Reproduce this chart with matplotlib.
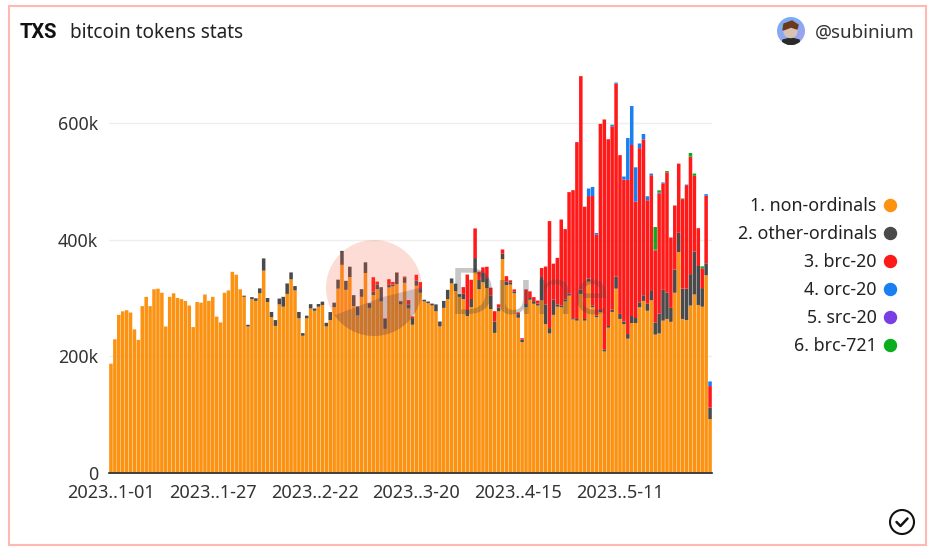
import matplotlib
matplotlib.use('Agg')
import matplotlib.pyplot as plt
from matplotlib.patches import Circle, Rectangle, Polygon
import numpy as np

FONT = 'Noto Sans'
plt.rcParams['font.family'] = [FONT, 'DejaVu Sans']

# values in thousands of transactions, one per day
non_ordinals = [
    187, 229, 271, 277, 279, 275, 246, 228, 286, 302, 286, 315, 316, 309, 251, 302, 308, 300, 298, 295,
    287, 250, 293, 292, 306, 295, 302, 268, 258, 309, 313, 345, 340, 315, 302, 251, 298, 295, 308, 347,
    293, 267, 252, 289, 285, 307, 332, 313, 265, 235, 265, 282, 278, 285, 288, 251, 262, 284, 316, 357,
    314, 336, 286, 270, 302, 343, 283, 305, 315, 294, 247, 318, 320, 324, 289, 326, 282, 254, 321, 309,
    294, 291, 287, 277, 251, 283, 298, 325, 312, 302, 298, 269, 284, 344, 315, 327, 317, 281, 240, 277,
    367, 322, 323, 308, 266, 224, 284, 297, 290, 287, 296, 255, 239, 271, 285, 284, 294, 304, 263, 261,
    307, 261, 328, 284, 267, 276, 208, 249, 276, 316, 264, 255, 230, 257, 257, 284, 295, 278, 296, 237,
    239, 261, 264, 259, 309, 379, 264, 262, 287, 306, 288, 285, 339, 92]
other_ordinals = [
    0, 0, 0, 0, 0, 0, 0, 0, 0, 0, 0, 0, 0, 0, 0, 0, 0, 0, 0, 0,
    0, 0, 0, 0, 0, 0, 0, 0, 0, 0, 0, 0, 0, 0, 2, 3, 3.5, 4.5, 8.5, 21,
    7, 9, 10, 10, 17, 18, 12, 7.5, 11, 4.6, 4.6, 7.4, 4, 4.6, 5.7, 6.3, 13.8, 8, 15.5, 24,
    15.5, 17.8, 18.9, 15.5, 13.2, 18.3, 8, 5.7, 8.6, 24.6, 17, 4.6, 3, 19.5, 5, 8.6, 6.9, 11.5, 9.2, 6.3,
    3, 3, 3.4, 12, 8.6, 12, 16, 8.6, 12.6, 4.6, 9.2, 10.3, 14.3, 24.6, 16, 16, 17.2, 23.5, 19.5, 6.9,
    9, 6.3, 4, 3.4, 6.3, 4.6, 5.7, 2.9, 4.6, 3.4, 40, 34, 9.2, 26, 4, 2.9, 3.4, 4, 2.3, 2.9,
    7.4, 2.9, 5.2, 3.4, 2.9, 3.4, 2.9, 2.9, 4, 20.6, 8.6, 4.6, 8, 12, 8.6, 8.6, 9.7, 12, 16, 21,
    34, 53, 45, 24, 40, 33, 52, 54, 54, 74, 67, 32, 20.6, 19.6]
brc_20 = [
    0, 0, 0, 0, 0, 0, 0, 0, 0, 0, 0, 0, 0, 0, 0, 0, 0, 0, 0, 0,
    0, 0, 0, 0, 0, 0, 0, 0, 0, 0, 0, 0, 0, 0, 0, 0, 0, 0, 0, 0,
    0, 0, 0, 0, 0, 0, 0, 0, 0, 0, 0, 0, 0, 0, 0, 0, 0, 0, 0, 0,
    0, 0, 0, 0, 0, 0, 0, 25, 4.6, 0, 1, 9.7, 4.6, 0.6, 1, 2.3, 7.4, 2.9, 9.7, 12,
    0, 0, 0, 0, 0, 0, 0, 0, 0, 0, 11.5, 61, 33, 51, 14.3, 9.7, 19.5, 13.2, 17.8, 5.2,
    7.4, 9.2, 3.4, 3.4, 2.9, 2.3, 25, 11.5, 6.9, 5.2, 15.5, 65, 184, 62, 80, 148, 121, 174, 220, 304,
    367, 193, 142, 188, 139, 320, 396, 321, 315, 332, 273, 244, 265, 294, 200, 265, 268, 178, 199, 124,
    207, 183, 207, 121, 110, 119, 154, 178, 202, 130, 65, 34, 116, 37]
orc_20 = [0] * 122 + [
    13, 15.5, 2.9, 0, 0, 0, 2.9, 1.7, 0, 5.2, 72, 67, 59, 8, 9.2, 6.9, 2.9, 1, 1.7, 1.7,
    0, 0, 0, 0, 0, 1, 0, 0, 0, 0, 2.9, 8]
src_20 = [0] * 154
brc_721 = [0] * 139 + [39, 3.4, 0, 2.3, 0, 0, 0, 1.1, 0, 6.3, 4, 0, 3.4, 0, 0]

series_names = ['1. non-ordinals', '2. other-ordinals', '3. brc-20', '4. orc-20', '5. src-20', '6. brc-721']
series_colors = ['#fb9212', '#4a4a4a', '#ff1a1a', '#1a7ff0', '#7a3fe4', '#0aad1e']
series_values = [non_ordinals, other_ordinals, brc_20, orc_20, src_20, brc_721]

date_ticks = [0, 26, 52, 78, 104, 130]
date_labels = ['2023..1-01', '2023..1-27', '2023..2-22', '2023..3-20', '2023..4-15', '2023..5-11']
y_ticks = [0, 200, 400, 600]
y_labels = ['0', '200k', '400k', '600k']

W, H = 933, 550
fig = plt.figure(figsize=(W / 100, H / 100), dpi=100)
fig.patch.set_facecolor('white')

# chart area, placed in pixels
ax = fig.add_axes([109 / W, (H - 472.5) / H, 603 / W, 410.5 / H])
x = np.arange(len(non_ordinals))
bottom = np.zeros(len(x))
for values, color in zip(series_values, series_colors):
    values = np.array(values, dtype=float)
    bars = ax.bar(x, values, bottom=bottom, width=0.9, color=color, linewidth=0, zorder=3)
    for b in bars:
        b.set_snap(False)  # keep the day stripes even
    bottom += values
ax.set_xlim(-0.5, 153.5)
ax.set_ylim(0, 410.5 / 0.5817)
for s in ['top', 'right', 'left']:
    ax.spines[s].set_visible(False)
ax.spines['bottom'].set_color('#222222')
ax.spines['bottom'].set_linewidth(1.2)
ax.spines['bottom'].set_zorder(4)
ax.grid(axis='y', color='#eeeeee', linewidth=1, zorder=0)
ax.set_axisbelow(True)
ax.set_xticks(date_ticks)
ax.set_xticklabels(date_labels, fontsize=13, color='#333333')
ax.set_yticks(y_ticks)
ax.set_yticklabels(y_labels, fontsize=12.8, color='#333333')
ax.tick_params(axis='both', length=0)
ax.tick_params(axis='x', pad=8)
ax.tick_params(axis='y', pad=8)

# overlay in pixel coordinates for the frame, header, legend and marks
ov = fig.add_axes([0, 0, 1, 1], zorder=10)
ov.set_xlim(0, W)
ov.set_ylim(H, 0)
ov.axis('off')
ov.patch.set_alpha(0)

ov.add_patch(Rectangle((8.5, 6), 917, 539, fill=False, edgecolor='#ffb8b2', linewidth=1.5))

ov.text(20, 32.5, 'TXS', fontsize=14.5, family='Roboto', fontweight='bold', color='#111111', va='center', ha='left')
ov.text(70, 33, 'bitcoin tokens stats', fontsize=13.7, color='#222222', va='center', ha='left')
ov.text(915, 33, '@subinium', fontsize=13.5, color='#333333', va='center', ha='right')

# avatar
ov.imshow(np.linspace(0, 1, 30).reshape(-1, 1) * np.ones((30, 30)) + np.linspace(0, 0.6, 30), cmap=matplotlib.colors.LinearSegmentedColormap.from_list('av', ['#6fb0f5', '#a9a0ee']),
          extent=(777, 805, 45, 17), zorder=1, aspect='auto')
clip = Circle((791, 31), 14, transform=ov.transData)
ov.images[-1].set_clip_path(clip)
ov.set_xlim(0, W)
ov.set_ylim(H, 0)
body = Polygon([[782, 45], [783, 40], [791, 38], [799, 40], [800, 45]], color='#2a2a2a', zorder=2)
ov.add_patch(body)
body.set_clip_path(Circle((791, 31), 14, transform=ov.transData))
ov.add_patch(Circle((790.5, 31), 6.5, color='#d8c2b4', zorder=3))
ov.add_patch(Polygon([[783, 30], [784, 24], [792, 21], [798, 25], [797, 29], [791, 27], [786, 29]], color='#6b3a1c', zorder=4))

# legend
legend_y = [205, 233, 261, 289, 317, 345]
for name, color, y in zip(series_names, series_colors, legend_y):
    ov.text(876.5, y + 1, name, fontsize=12.8, color='#222222', va='center', ha='right')
    ov.add_patch(Circle((890.5, y + 0.5), 6, color=color))

# watermark
ov.add_patch(Circle((374, 288), 48, color='#f4603e', alpha=0.22, linewidth=0, zorder=5))
lower = Polygon([[320, 320], [335, 315], [383, 297], [423, 287], [430, 350], [320, 350]], color='#2c3a5e', alpha=0.22, linewidth=0, zorder=6)
ov.add_patch(lower)
lower.set_clip_path(Circle((374, 288), 48, transform=ov.transData))
ov.text(449, 314, 'Dune', fontsize=46, fontweight='bold', color='#444444', alpha=0.3, va='baseline', ha='left', zorder=6)

# check mark
ov.add_patch(Circle((902, 522), 12, fill=False, edgecolor='#111111', linewidth=1.5))
ov.plot([896.5, 900.5, 907.5], [522, 526, 518.5], color='#111111', linewidth=1.8, solid_capstyle='round')

fig.savefig('out.png', dpi=100)
